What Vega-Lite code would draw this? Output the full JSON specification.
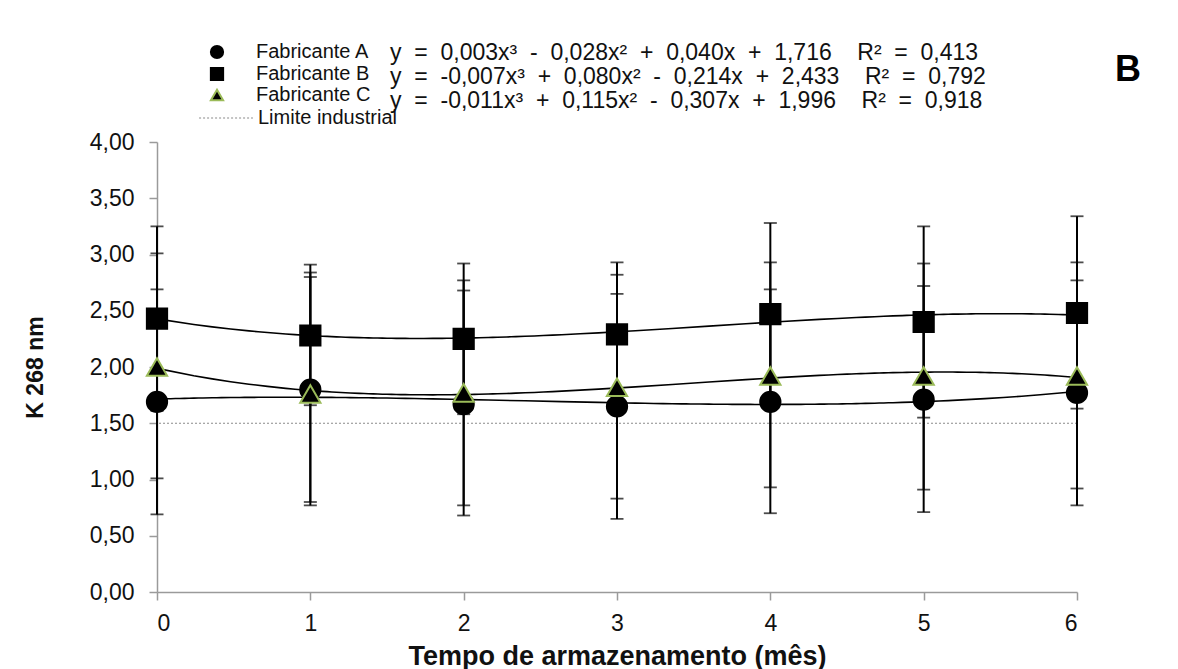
{
  "$schema": "https://vega.github.io/schema/vega-lite/v6.json",
  "width": 920,
  "height": 450,
  "autosize": "none",
  "padding": {"left": 157, "top": 142, "right": 101, "bottom": 77},
  "background": "white",
  "config": {
    "font": "Liberation Sans",
    "view": {"stroke": null},
    "axis": {
      "grid": false,
      "domainColor": "#9a9a9a",
      "domainWidth": 1.5,
      "tickColor": "#9a9a9a",
      "tickWidth": 1.5,
      "tickSize": 8,
      "labelFont": "Liberation Sans",
      "labelFontSize": 23,
      "labelColor": "#111",
      "titleFont": "Liberation Sans",
      "titleFontWeight": "bold",
      "titleColor": "#111"
    },
    "legend": {
      "labelFont": "Liberation Sans",
      "labelFontSize": 20,
      "labelColor": "#111",
      "labelLimit": 1000,
      "padding": 0,
      "title": null
    }
  },
  "title": {
    "text": "B",
    "anchor": "end",
    "orient": "top",
    "fontSize": 36,
    "fontWeight": "bold",
    "font": "Liberation Sans",
    "color": "#000",
    "offset": 0,
    "dy": 48,
    "dx": 50
  },
  "datasets": {
    "medidas": [
      {"serie": "Fabricante A", "mes": 0, "k": 1.69, "lo": 0.69, "hi": 2.69},
      {"serie": "Fabricante A", "mes": 1, "k": 1.80, "lo": 0.80, "hi": 2.80},
      {"serie": "Fabricante A", "mes": 2, "k": 1.67, "lo": 0.68, "hi": 2.68},
      {"serie": "Fabricante A", "mes": 3, "k": 1.65, "lo": 0.65, "hi": 2.65},
      {"serie": "Fabricante A", "mes": 4, "k": 1.69, "lo": 0.70, "hi": 2.69},
      {"serie": "Fabricante A", "mes": 5, "k": 1.71, "lo": 0.71, "hi": 2.72},
      {"serie": "Fabricante A", "mes": 6, "k": 1.77, "lo": 0.77, "hi": 2.77},
      {"serie": "Fabricante B", "mes": 0, "k": 2.43, "lo": 1.61, "hi": 3.25},
      {"serie": "Fabricante B", "mes": 1, "k": 2.28, "lo": 1.66, "hi": 2.91},
      {"serie": "Fabricante B", "mes": 2, "k": 2.25, "lo": 1.58, "hi": 2.92},
      {"serie": "Fabricante B", "mes": 3, "k": 2.29, "lo": 1.66, "hi": 2.93},
      {"serie": "Fabricante B", "mes": 4, "k": 2.47, "lo": 1.65, "hi": 3.28},
      {"serie": "Fabricante B", "mes": 5, "k": 2.40, "lo": 1.55, "hi": 3.25},
      {"serie": "Fabricante B", "mes": 6, "k": 2.48, "lo": 1.63, "hi": 3.34},
      {"serie": "Fabricante C", "mes": 0, "k": 2.00, "lo": 1.01, "hi": 3.01},
      {"serie": "Fabricante C", "mes": 1, "k": 1.76, "lo": 0.77, "hi": 2.84},
      {"serie": "Fabricante C", "mes": 2, "k": 1.77, "lo": 0.77, "hi": 2.77},
      {"serie": "Fabricante C", "mes": 3, "k": 1.82, "lo": 0.83, "hi": 2.82},
      {"serie": "Fabricante C", "mes": 4, "k": 1.92, "lo": 0.93, "hi": 2.93},
      {"serie": "Fabricante C", "mes": 5, "k": 1.92, "lo": 0.91, "hi": 2.92},
      {"serie": "Fabricante C", "mes": 6, "k": 1.92, "lo": 0.92, "hi": 2.93}
    ],
    "equacoes": [
      {"serie": "Fabricante A", "equacao": "y = 0,003x³ - 0,028x² + 0,040x + 1,716  R² = 0,413"},
      {"serie": "Fabricante B", "equacao": "y = -0,007x³ + 0,080x² - 0,214x + 2,433  R² = 0,792"},
      {"serie": "Fabricante C", "equacao": "y = -0,011x³ + 0,115x² - 0,307x + 1,996  R² = 0,918"}
    ],
    "limite": [
      {"referencia": "Limite industrial", "k": 1.5}
    ]
  },
  "encoding": {
    "x": {
      "field": "mes",
      "type": "quantitative",
      "scale": {"domain": [0, 6], "nice": false, "zero": false},
      "axis": {
        "values": [0, 1, 2, 3, 4, 5, 6],
        "format": "d",
        "labelPadding": 12,
        "title": "Tempo de armazenamento (mês)",
        "titleFontSize": 27,
        "titlePadding": 8
      }
    },
    "y": {
      "field": "k",
      "type": "quantitative",
      "scale": {"domain": [0, 4], "nice": false},
      "axis": {
        "values": [0, 0.5, 1, 1.5, 2, 2.5, 3, 3.5, 4],
        "labelExpr": "replace(format(datum.value, '.2f'), '.', ',')",
        "labelPadding": 15,
        "title": "K 268 nm",
        "titleFontSize": 23,
        "titlePadding": 42
      }
    }
  },
  "layer": [
    {
      "data": {"name": "limite"},
      "mark": {"type": "rule", "color": "#8a8a8a", "strokeWidth": 1.2},
      "encoding": {
        "x": null,
        "y": {"field": "k", "type": "quantitative"},
        "strokeDash": {
          "field": "referencia",
          "type": "nominal",
          "scale": {"range": [[2, 2]]},
          "legend": {
            "orient": "none",
            "legendX": 41,
            "legendY": -52,
            "symbolSize": 2900,
            "symbolStrokeWidth": 1.2,
            "labelOffset": 4
          }
        }
      }
    },
    {
      "data": {"name": "medidas"},
      "mark": {"type": "rule", "color": "#000", "strokeWidth": 2},
      "encoding": {
        "y": {"field": "lo", "type": "quantitative"},
        "y2": {"field": "hi"}
      }
    },
    {
      "data": {"name": "medidas"},
      "mark": {"type": "tick", "orient": "horizontal", "color": "#000", "size": 13, "thickness": 1.8},
      "encoding": {
        "y": {"field": "lo", "type": "quantitative"}
      }
    },
    {
      "data": {"name": "medidas"},
      "mark": {"type": "tick", "orient": "horizontal", "color": "#000", "size": 13, "thickness": 1.8},
      "encoding": {
        "y": {"field": "hi", "type": "quantitative"}
      }
    },
    {
      "data": {"name": "medidas"},
      "transform": [
        {"regression": "k", "on": "mes", "groupby": ["serie"], "method": "poly", "order": 3, "extent": [0, 6]}
      ],
      "mark": {"type": "line", "color": "#000", "strokeWidth": 1.6},
      "encoding": {
        "detail": {"field": "serie", "type": "nominal"}
      }
    },
    {
      "data": {"name": "medidas"},
      "transform": [
        {"lookup": "serie", "from": {"data": {"name": "equacoes"}, "key": "serie", "fields": ["equacao"]}}
      ],
      "mark": {"type": "point", "filled": false, "fill": "#000", "fillOpacity": 1, "strokeWidth": 2, "size": 410},
      "encoding": {
        "shape": {
          "field": "serie",
          "type": "nominal",
          "scale": {"domain": ["Fabricante A", "Fabricante B", "Fabricante C"], "range": ["circle", "square", "triangle-up"]},
          "legend": {
            "orient": "none",
            "legendX": 50,
            "legendY": -100,
            "symbolSize": 150,
            "symbolFillColor": "#000",
            "symbolStrokeWidth": 2,
            "labelOffset": 29,
            "rowPadding": 0
          }
        },
        "stroke": {
          "field": "serie",
          "type": "nominal",
          "scale": {"domain": ["Fabricante A", "Fabricante B", "Fabricante C"], "range": ["#000", "#000", "#9bbb59"]}
        },
        "opacity": {
          "field": "equacao",
          "type": "ordinal",
          "sort": null,
          "scale": {"range": [1, 1, 1]},
          "legend": {
            "orient": "none",
            "legendX": 210,
            "legendY": -101,
            "symbolSize": 0,
            "symbolOpacity": 0,
            "symbolFillColor": "transparent",
            "symbolStrokeColor": "transparent",
            "symbolStrokeWidth": 0,
            "labelOffset": 0,
            "labelFontSize": 23,
            "rowPadding": 0,
            "labelExpr": "replace(datum.label, / /g, '\u00a0\u00a0')"
          }
        }
      }
    }
  ]
}
